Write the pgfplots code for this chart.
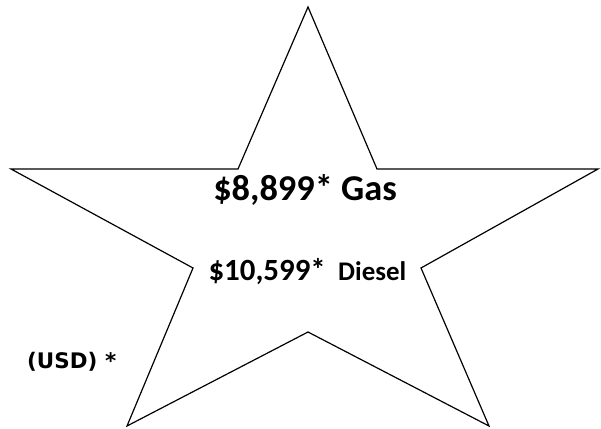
\documentclass[border=0pt]{standalone}
\usepackage{fontspec}
\setmainfont{Carlito}
\newfontfamily\dejavu{DejaVu Sans}
\usepackage{pgfplots}
\pgfplotsset{compat=1.18}
\begin{document}
\begin{tikzpicture}
\begin{axis}[
  scale only axis, width=601bp, height=429bp,
  xmin=0, xmax=601, ymin=0, ymax=429, y dir=reverse,
  hide axis, clip=false]
\path[draw=none] (axis cs:0,0) rectangle (axis cs:601,429);
\addplot[black, line width=1.2pt, line join=miter, mark=none] coordinates {
 (308,7) (377,169) (598,169) (421,268) (489,426) (308,332) (127,426) (193,268) (11,169) (238,169) (308,7)
} -- cycle;
\node[anchor=base, font=\bfseries\fontsize{36.5}{40}\selectfont, inner sep=0pt] at (axis cs:305,200) {\$8,899* Gas};
\node[anchor=base east, font=\bfseries\fontsize{31}{34}\selectfont, inner sep=0pt] at (axis cs:326,280) {\$10,599*};
\node[anchor=base west, font=\bfseries\fontsize{27}{30}\selectfont, inner sep=0pt] at (axis cs:338,280) {Diesel};
\node[anchor=base west, font=\dejavu\bfseries\fontsize{21.5}{24}\selectfont, inner sep=0pt] at (axis cs:27,368) {(USD)};
\node[anchor=base west, font=\dejavu\bfseries\fontsize{21.5}{24}\selectfont, inner sep=0pt] at (axis cs:105,368) {*};
\end{axis}
\end{tikzpicture}
\end{document}
